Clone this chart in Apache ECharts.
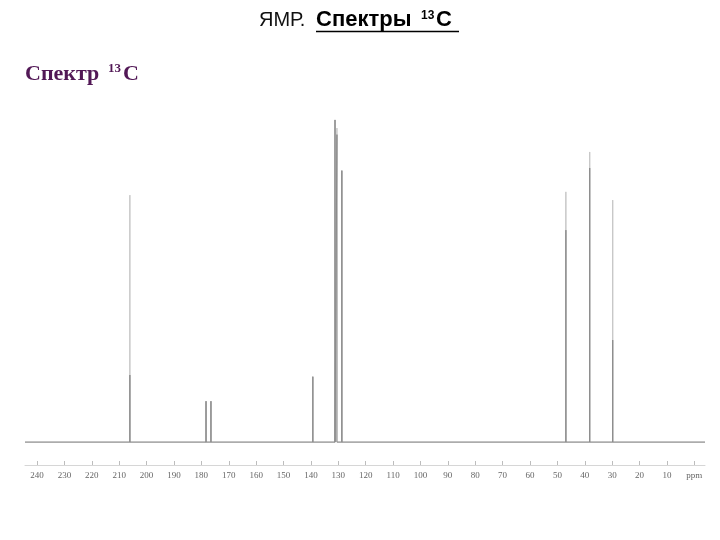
<!DOCTYPE html>
<html>
<head>
<meta charset="utf-8">
<script src="https://cdn.jsdelivr.net/npm/echarts@6/dist/echarts.min.js"></script>
<style>html,body{margin:0;padding:0;background:#fff}#c{width:720px;height:540px}</style>
</head>
<body>
<div id="c"></div>
<script>
// Chemical shifts (ppm) of the peaks
var peakShifts = [206.1, 178.3, 176.5, 139.3, 131.2, 130.5, 128.7, 46.9, 38.2, 29.8];
// Full (light) peak heights, relative intensity
var peakHeights = [75.5, 12.5, 12.5, 20, 98.5, 96, 83, 76.5, 88.7, 74];
// Darker core heights of the same peaks
var peakCoreHeights = [20.5, 12.5, 12.5, 20, 98.5, 94, 83, 64.8, 83.8, 31.2];
// Axis tick values and labels
var tickValues = [240, 230, 220, 210, 200, 190, 180, 170, 160, 150, 140, 130, 120, 110, 100, 90, 80, 70, 60, 50, 40, 30, 20, 10, 0];
var tickLabels = ['240','230','220','210','200','190','180','170','160','150','140','130','120','110','100','90','80','70','60','50','40','30','20','10','ppm'];
var axisMax = 244.4, axisMin = -3.9;

function spikes(heights) {
  var d = [[axisMax, 0]];
  for (var i = 0; i < peakShifts.length; i++) {
    d.push([peakShifts[i], 0], [peakShifts[i], heights[i]], [peakShifts[i], 0]);
  }
  d.push([axisMin, 0]);
  return d;
}

var chart = echarts.init(document.getElementById('c'), null, {renderer: 'canvas'});
chart.setOption({
  animation: false,
  backgroundColor: '#fff',
  grid: {left: 25, right: 15, top: 115, bottom: 75},
  xAxis: {
    type: 'value', inverse: true, min: axisMin, max: axisMax,
    splitLine: {show: false},
    axisLine: {show: true, onZero: false, lineStyle: {color: '#d6d6d6', width: 1}},
    axisTick: {show: true, inside: true, length: 4, customValues: tickValues, lineStyle: {color: '#bdbdbd'}},
    axisLabel: {
      customValues: tickValues, margin: 6, color: '#666', fontSize: 9, fontFamily: 'Liberation Serif',
      formatter: function (v) { var i = tickValues.indexOf(v); return i >= 0 ? tickLabels[i] : ''; }
    }
  },
  yAxis: {type: 'value', min: -7, max: 100, show: false, splitLine: {show: false}},
  series: [
    {type: 'line', data: spikes(peakHeights), symbol: 'none', silent: true,
     lineStyle: {color: '#c6c6c6', width: 1}},
    {type: 'line', data: spikes(peakCoreHeights), symbol: 'none', silent: true,
     lineStyle: {color: '#8c8c8c', width: 1}}
  ],
  graphic: [
    {type: 'text', style: {text: 'ЯМР.', x: 259, y: 20, font: '20px "Liberation Sans"', fill: '#111', verticalAlign: 'middle'}},
    {type: 'text', style: {text: 'Спектры', x: 316, y: 20, font: 'bold 22px "Liberation Sans"', fill: '#000', verticalAlign: 'middle'}},
    {type: 'text', style: {text: '13', x: 421, y: 16, font: 'bold 12px "Liberation Sans"', fill: '#000', verticalAlign: 'middle'}},
    {type: 'text', style: {text: 'C', x: 436, y: 20, font: 'bold 22px "Liberation Sans"', fill: '#000', verticalAlign: 'middle'}},
    {type: 'line', shape: {x1: 316, y1: 31.5, x2: 459, y2: 31.5}, style: {stroke: '#000', lineWidth: 1.5}},
    {type: 'text', style: {text: 'Спектр', x: 25, y: 74, font: 'bold 22px "Liberation Serif"', fill: '#521856', verticalAlign: 'middle'}},
    {type: 'text', style: {text: '13', x: 108, y: 69, font: 'bold 13px "Liberation Serif"', fill: '#521856', verticalAlign: 'middle'}},
    {type: 'text', style: {text: 'C', x: 123, y: 74, font: 'bold 22px "Liberation Serif"', fill: '#521856', verticalAlign: 'middle'}}
  ]
});
</script>
</body>
</html>
